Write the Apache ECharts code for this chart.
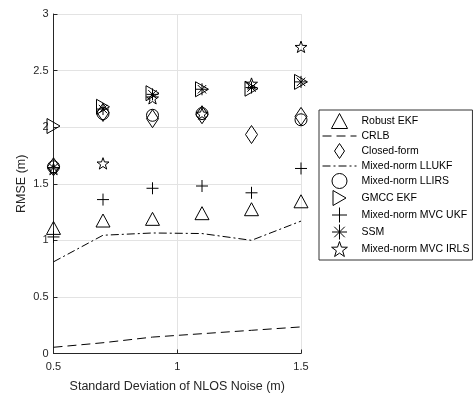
<!DOCTYPE html>
<html>
<head>
<meta charset="utf-8">
<script src="https://cdn.jsdelivr.net/npm/echarts@6/dist/echarts.min.js"></script>
<style>
  html, body { margin: 0; padding: 0; background: #fff; }
  #chart { width: 474px; height: 396px; }
</style>
</head>
<body>
<div id="chart"></div>
<script>
// noise std (m)
var xVals = [0.5, 0.7, 0.9, 1.1, 1.3, 1.5];
var yTicks = [0, 0.5, 1, 1.5, 2, 2.5, 3];

var robustEkf = [1.11, 1.175, 1.19, 1.24, 1.275, 1.345];
var crlb = [0.055, 0.095, 0.145, 0.175, 0.205, 0.235];
var closedForm = [1.65, 2.13, 2.075, 2.11, 1.935, 2.095];
var llukf = [0.81, 1.045, 1.065, 1.06, 1.0, 1.17];
var llirs = [1.65, 2.12, 2.105, 2.12, null, 2.065]; // not visible at 1.3
var gmccEkf = [2.01, 2.18, 2.30, 2.335, 2.34, 2.40];
var mvcUkf = [1.03, 1.36, 1.46, 1.48, 1.42, 1.635];
var ssm = [1.64, 2.16, 2.29, 2.335, 2.35, 2.40];
var mvcIrls = [1.63, 1.68, 2.255, 2.12, 2.385, 2.71];

function pairs(ys) {
  var out = [];
  xVals.forEach(function (x, i) {
    if (ys[i] != null) out.push([x, ys[i]]);
  });
  return out;
}

var axisColor = '#262626';
var gridColor = '#e3e3e3';
var fontFam = '"Liberation Sans", Arial, sans-serif';

var triPath = 'path://M7,0L14,13L0,13Z';
var diamondPath = 'path://M6,0L12,9L6,18L0,9Z';
var rightTriPath = 'path://M0,0L13,7.5L0,15Z';
var plusPath = 'path://M6,0L6,12M0,6L12,6';
var asteriskPath = 'path://M6,0L6,12M0,6L12,6M1.8,1.8L10.2,10.2M10.2,1.8L1.8,10.2';
var starPath = 'path://M6,0L7.41,4.06L11.71,4.15L8.28,6.74L9.53,10.85L6,8.4L2.47,10.85L3.72,6.74L0.29,4.15L4.59,4.06Z';

function markers(name, data, symbol, size) {
  return {
    name: name,
    type: 'scatter',
    data: pairs(data),
    symbol: symbol,
    symbolSize: size,
    symbolKeepAspect: true,
    z: 5,
    itemStyle: { color: 'rgba(0,0,0,0)', borderColor: '#000', borderWidth: 1, opacity: 1 }
  };
}

function line(name, data, dash) {
  return {
    name: name,
    type: 'line',
    data: pairs(data),
    symbol: 'none',
    z: 3,
    itemStyle: { color: '#000' },
    lineStyle: { color: '#000', width: 1, type: dash }
  };
}

var legendNames = ['Robust EKF', 'CRLB', 'Closed-form', 'Mixed-norm LLUKF', 'Mixed-norm LLIRS',
  'GMCC EKF', 'Mixed-norm MVC UKF', 'SSM', 'Mixed-norm MVC IRLS'];
var lineNames = ['CRLB', 'Mixed-norm LLUKF'];

var chart = echarts.init(document.getElementById('chart'), null, { renderer: 'canvas' });
chart.setOption({
  animation: false,
  backgroundColor: '#fff',
  grid: { left: 53.5, right: 173, top: 14, bottom: 42.5, containLabel: false, outerBoundsMode: 'none' },
  legend: {
    orient: 'vertical',
    left: 319,
    top: 110,
    padding: [3, 3, 3, 3],
    itemWidth: 34,
    itemHeight: 15,
    itemGap: 1,
    borderColor: '#333',
    borderWidth: 1,
    backgroundColor: '#fff',
    itemStyle: { borderWidth: 1 },
    lineStyle: { width: 1 },
    textStyle: { color: '#000', fontSize: 10.5, fontFamily: fontFam },
    data: legendNames.map(function (n) {
      if (lineNames.indexOf(n) >= 0) return { name: n, itemStyle: { opacity: 0 } };
      return n;
    })
  },
  xAxis: {
    type: 'value',
    min: 0.5,
    max: 1.5,
    interval: 0.5,
    name: 'Standard Deviation of NLOS Noise (m)',
    nameLocation: 'middle',
    nameGap: 27,
    nameMoveOverlap: false,
    nameTextStyle: { color: axisColor, fontSize: 12.5, fontFamily: fontFam },
    axisLine: { lineStyle: { color: axisColor, width: 1 } },
    axisTick: { inside: true, length: 4, lineStyle: { color: axisColor } },
    axisLabel: { color: axisColor, fontSize: 11, fontFamily: fontFam, margin: 8 },
    splitLine: { show: true, lineStyle: { color: gridColor, width: 1 } }
  },
  yAxis: {
    type: 'value',
    min: yTicks[0],
    max: yTicks[yTicks.length - 1],
    interval: 0.5,
    name: 'RMSE (m)',
    nameLocation: 'middle',
    nameGap: 25,
    nameMoveOverlap: false,
    nameTextStyle: { color: axisColor, fontSize: 12.5, fontFamily: fontFam },
    axisLine: { show: true, lineStyle: { color: axisColor, width: 1 } },
    axisTick: { show: true, inside: true, length: 4, lineStyle: { color: axisColor } },
    axisLabel: { color: axisColor, fontSize: 11, fontFamily: fontFam, margin: 5 },
    splitLine: { show: true, lineStyle: { color: gridColor, width: 1 } }
  },
  series: [
    markers('Robust EKF', robustEkf, triPath, 14),
    line('CRLB', crlb, [9, 5]),
    markers('Closed-form', closedForm, diamondPath, 18),
    line('Mixed-norm LLUKF', llukf, [8, 3, 2, 3]),
    markers('Mixed-norm LLIRS', llirs, 'circle', 12),
    markers('GMCC EKF', gmccEkf, rightTriPath, 15),
    markers('Mixed-norm MVC UKF', mvcUkf, plusPath, 12),
    markers('SSM', ssm, asteriskPath, 12),
    markers('Mixed-norm MVC IRLS', mvcIrls, starPath, 12)
  ]
});
</script>
</body>
</html>
